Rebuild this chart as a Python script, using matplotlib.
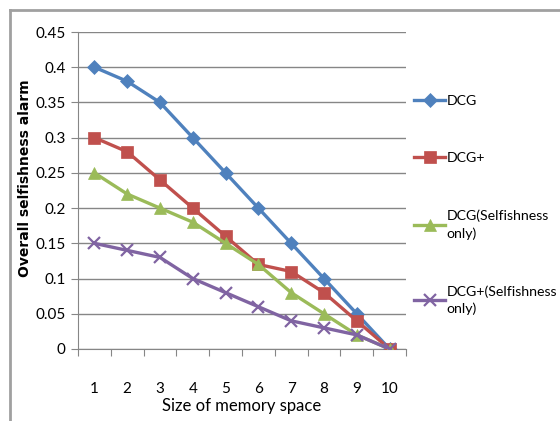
import matplotlib
matplotlib.use("Agg")
import matplotlib.pyplot as plt
from matplotlib.lines import Line2D
import numpy as np

plt.rcParams['font.family'] = ['Lato', 'DejaVu Sans']

# data
memory_size = [1, 2, 3, 4, 5, 6, 7, 8, 9, 10]
dcg = [0.40, 0.38, 0.35, 0.30, 0.25, 0.20, 0.15, 0.10, 0.05, 0.0]
dcg_plus = [0.30, 0.28, 0.24, 0.20, 0.16, 0.12, 0.11, 0.08, 0.04, 0.0]
dcg_self = [0.25, 0.22, 0.20, 0.18, 0.15, 0.12, 0.08, 0.05, 0.02, 0.0]
dcg_plus_self = [0.15, 0.14, 0.13, 0.10, 0.08, 0.06, 0.04, 0.03, 0.02, 0.0]
series_labels = ["DCG", "DCG+", "DCG(Selfishness\nonly)", "DCG+(Selfishness\nonly)"]
y_ticks = [0, 0.05, 0.1, 0.15, 0.2, 0.25, 0.3, 0.35, 0.4, 0.45]

colors = ["#4F81BD", "#C0504D", "#9BBB59", "#8064A2"]
markers = ["D", "s", "^", "x"]
msizes = [7.5, 9, 8.5, 8.5]

fig = plt.figure(figsize=(5.6, 4.21), dpi=100)
ax = fig.add_axes([78 / 560, 1 - 349 / 421, 328 / 560, 317 / 421])

x = np.arange(len(memory_size)) + 1
for vals, lab, c, m, ms in zip([dcg, dcg_plus, dcg_self, dcg_plus_self],
                               series_labels, colors, markers, msizes):
    ax.plot(x, vals, color=c, lw=2.4, marker=m, markersize=ms,
            markeredgewidth=1.6 if m == "x" else 0.5, markeredgecolor=c,
            label=lab, zorder=3)

ax.set_xlim(0.5, len(memory_size) + 0.5)
ax.set_ylim(0, 0.45)
ax.set_yticks(y_ticks)
ax.set_yticklabels([("%g" % v) for v in y_ticks], fontsize=11)
ax.yaxis.grid(True, color="#868686", lw=1.0, zorder=0)

# category axis: major ticks between categories, labels on minor ticks
ax.set_xticks(np.arange(0.5, len(memory_size) + 1, 1.0))
ax.set_xticklabels([])
ax.set_xticks(x, minor=True)
ax.set_xticklabels([str(v) for v in memory_size], minor=True, fontsize=11)
ax.tick_params(axis='x', which='major', direction='out', length=5, color="#868686")
ax.tick_params(axis='x', which='minor', length=0, pad=24)
ax.tick_params(axis='y', direction='out', length=5, color="#868686", pad=4)

for s in ['top', 'right']:
    ax.spines[s].set_visible(False)
for s in ['left', 'bottom']:
    ax.spines[s].set_color("#868686")

ax.set_xlabel("Size of memory space", fontsize=12, labelpad=1)
fig.text(25 / 560, 1 - 178 / 421, "Overall selfishness alarm", rotation=90,
         fontsize=10, fontweight='bold', family='DejaVu Sans',
         ha='center', va='center')

leg = ax.legend(loc='upper left', bbox_to_anchor=(1.008, 0.82), frameon=False,
                fontsize=10.2, handlelength=2.2, handletextpad=0.1,
                labelspacing=3.2, borderaxespad=0)
for t in leg.get_texts():
    t.set_linespacing(1.5)

# outer chart frame
fig.add_artist(Line2D([10 / 560, 10 / 560], [0, 1 - 10 / 421], color="#A0A0A0", lw=2))
fig.add_artist(Line2D([10 / 560, 1], [1 - 10 / 421, 1 - 10 / 421], color="#A0A0A0", lw=2))

fig.savefig("out.png", dpi=100)
